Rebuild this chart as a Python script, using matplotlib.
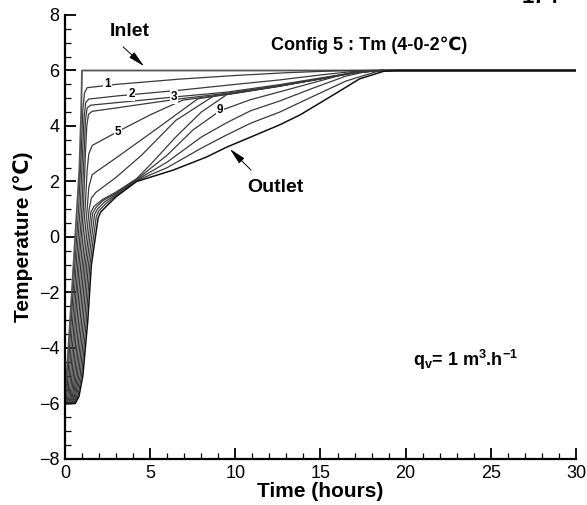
import matplotlib
matplotlib.use('Agg')
import matplotlib.pyplot as plt
from matplotlib.ticker import MultipleLocator

plt.rcParams['font.family'] = ['Liberation Sans', 'DejaVu Sans']
plt.rcParams['mathtext.fontset'] = 'custom'
plt.rcParams['mathtext.rm'] = 'Liberation Sans'
plt.rcParams['mathtext.bf'] = 'Liberation Sans:bold'

# curves: time (hours), temperature (C)
t_inlet = [0, 0.1, 0.3, 0.5, 0.7, 0.85, 0.95, 1.0, 30]
T_inlet = [-6, -5, -3, -1, 1, 2.5, 4.5, 6, 6]

t_c1 = [0, 0.05, 0.1, 0.17, 0.37, 0.58, 0.8, 0.95, 1.05, 1.15, 1.3, 3, 6.75, 10, 13, 16, 17, 30]
T_c1 = [-6, -6, -5.75, -5, -3, -1, 1, 3, 4.6, 5.2, 5.38, 5.5, 5.69, 5.82, 5.92, 5.99, 6, 6]

t_c2 = [0, 0.1, 0.17, 0.25, 0.45, 0.66, 0.89, 1.03, 1.12, 1.22, 1.4, 3, 6.75, 10, 12.6, 15, 17, 18, 30]
T_c2 = [-6, -6, -5.75, -5, -3, -1, 1, 3, 4.3, 4.85, 4.97, 5.08, 5.29, 5.5, 5.66, 5.84, 5.97, 6, 6]

t_c3 = [0, 0.15, 0.24, 0.33, 0.54, 0.75, 0.99, 1.12, 1.2, 1.3, 1.5, 3, 6.5, 9.5, 12.6, 15, 17, 18.5, 30]
T_c3 = [-6, -6, -5.75, -5, -3, -1, 1, 3, 4.2, 4.65, 4.75, 4.84, 5.05, 5.22, 5.49, 5.73, 5.93, 6, 6]

t_c4 = [0, 0.2, 0.31, 0.41, 0.62, 0.83, 1.08, 1.2, 1.28, 1.38, 1.6, 3, 6.5, 9.5, 12.6, 15, 17, 18.5, 30]
T_c4 = [-6, -6, -5.75, -5, -3, -1, 1, 3, 4.0, 4.42, 4.53, 4.65, 4.96, 5.18, 5.46, 5.71, 5.92, 6, 6]

t_c5 = [0, 0.25, 0.38, 0.49, 0.71, 0.92, 1.18, 1.3, 1.4, 1.6, 3.1, 5, 6.9, 9.5, 12.6, 15, 17, 18.5, 30]
T_c5 = [-6, -6, -5.75, -5, -3, -1, 1, 2.4, 3.0, 3.3, 3.8, 4.4, 4.93, 5.15, 5.45, 5.7, 5.92, 6, 6]

t_c6 = [0, 0.3, 0.44, 0.57, 0.8, 1.01, 1.3, 1.4, 1.6, 3, 5.5, 7.8, 9.5, 12.6, 15, 17, 18.5, 30]
T_c6 = [-6, -6, -5.75, -5, -3, -1, 1, 1.8, 2.25, 2.85, 3.95, 4.98, 5.14, 5.44, 5.7, 5.92, 6, 6]

t_c7 = [0, 0.35, 0.5, 0.65, 0.89, 1.1, 1.42, 1.55, 1.8, 3, 4.5, 6.5, 8.7, 9.5, 12.6, 15, 17, 18.5, 30]
T_c7 = [-6, -6, -5.75, -5, -3, -1, 1, 1.4, 1.6, 2.15, 2.95, 4.2, 5.07, 5.14, 5.44, 5.7, 5.92, 6, 6]

t_c8 = [0, 0.4, 0.56, 0.73, 0.98, 1.19, 1.52, 1.7, 2.2, 3, 4.2, 5, 6.5, 8, 9.5, 12.6, 15, 17, 18.5, 30]
T_c8 = [-6, -6, -5.75, -5, -3, -1, 0.9, 1.1, 1.35, 1.62, 2.1, 2.6, 3.6, 4.5, 5.13, 5.43, 5.7, 5.92, 6, 6]

t_c9 = [0, 0.45, 0.62, 0.81, 1.07, 1.28, 1.62, 1.8, 2.2, 3, 4.2, 6, 7.5, 9.1, 10.9, 12.6, 14.5, 16.5, 17.5, 30]
T_c9 = [-6, -6, -5.75, -5, -3, -1, 0.85, 1.05, 1.3, 1.58, 2.07, 2.95, 3.85, 4.55, 4.95, 5.23, 5.55, 5.88, 6, 6]

t_c10 = [0, 0.5, 0.68, 0.89, 1.16, 1.37, 1.73, 1.9, 2.3, 3, 4.2, 6, 8, 9.5, 10.9, 12.6, 14.5, 16.5, 18, 30]
T_c10 = [-6, -6, -5.75, -5, -3, -1, 0.8, 1.0, 1.25, 1.54, 2.05, 2.7, 3.6, 4.12, 4.55, 4.9, 5.35, 5.8, 6, 6]

t_c11 = [0, 0.55, 0.75, 0.97, 1.25, 1.46, 1.84, 2.0, 2.4, 3, 4.2, 6, 8, 9.5, 10.9, 12.6, 14.5, 16.5, 18.5, 30]
T_c11 = [-6, -6, -5.75, -5, -3, -1, 0.75, 0.95, 1.2, 1.5, 2.03, 2.5, 3.2, 3.68, 4.1, 4.5, 5.05, 5.62, 6, 6]

t_outlet = [0, 0.6, 0.82, 1.05, 1.34, 1.55, 1.95, 2.1, 2.5, 3, 4.2, 6.35, 8.3, 9.5, 10.9, 12.6, 13.8, 15.7, 17.3, 18.7, 19.5, 30]
T_outlet = [-6, -6, -5.75, -5, -3, -1, 0.7, 0.9, 1.15, 1.45, 2.0, 2.41, 2.88, 3.24, 3.6, 4.04, 4.4, 5.1, 5.7, 5.97, 6, 6]

curve_labels = ['1', '2', '3', '5', '9']
label_t = [2.5, 3.9, 6.4, 3.1, 9.1]
label_T = [5.5, 5.14, 5.05, 3.8, 4.58]

fig = plt.figure(figsize=(5.87, 5.05), dpi=100)
ax = fig.add_axes([0.1107, 0.0911, 0.8705, 0.8792])

ax.plot(t_inlet, T_inlet, color='#555555', lw=1.3)
for t, T in [(t_c1, T_c1), (t_c2, T_c2), (t_c3, T_c3), (t_c4, T_c4), (t_c5, T_c5),
             (t_c6, T_c6), (t_c7, T_c7), (t_c8, T_c8), (t_c9, T_c9), (t_c10, T_c10),
             (t_c11, T_c11)]:
    ax.plot(t, T, color='#3a3a3a', lw=0.9)
ax.plot(t_outlet, T_outlet, color='#111111', lw=1.1)

for lab, x, y in zip(curve_labels, label_t, label_T):
    ax.text(x, y, lab, fontsize=8.5, fontweight='bold', ha='center', va='center',
            bbox=dict(facecolor='white', edgecolor='none', pad=0.6), zorder=5)

ax.text(2.64, 7.39, 'Inlet', fontsize=14, fontweight='bold', va='center')
ax.annotate('', xy=(4.76, 6.09), xytext=(3.29, 6.92),
            arrowprops=dict(arrowstyle='-|>,head_length=1.0,head_width=0.22', color='k', lw=0.7))
ax.text(10.69, 1.8, 'Outlet', fontsize=14, fontweight='bold', va='center')
ax.annotate('', xy=(9.57, 3.24), xytext=(11.04, 2.34),
            arrowprops=dict(arrowstyle='-|>,head_length=1.0,head_width=0.22', color='k', lw=0.7))
ax.text(12.1, 6.92, 'Config 5 : Tm (4-0-2\u2103)', fontsize=13, fontweight='bold', va='center')
ax.text(20.43, -4.43, r'$\mathbf{q_v}$= 1 m$^\mathbf{3}$.h$^\mathbf{-1}$', fontsize=13,
        fontweight='bold', va='center')

fig.text(0.92, 1.004, '174', fontsize=16, fontweight='bold', ha='center', va='center')

ax.set_xlim(0, 30)
ax.set_ylim(-8, 8)
ax.set_xticks(range(0, 31, 5))
ax.set_yticks(range(-8, 9, 2))
ax.xaxis.set_minor_locator(MultipleLocator(1))
ax.yaxis.set_minor_locator(MultipleLocator(0.5))
ax.tick_params(which='major', direction='in', length=8, width=1.3, labelsize=13, pad=4)
ax.tick_params(which='minor', direction='in', length=4.5, width=0.9)
ax.tick_params(top=False, right=False, which='both')
for s in ['top', 'right']:
    ax.spines[s].set_visible(False)
for s in ['left', 'bottom']:
    ax.spines[s].set_linewidth(1.6)

ax.set_xlabel('Time (hours)', fontsize=15, fontweight='bold', labelpad=0)
ax.set_ylabel('Temperature (\u2103)', fontsize=15, fontweight='bold', labelpad=4)

fig.savefig('out.png', dpi=100)
